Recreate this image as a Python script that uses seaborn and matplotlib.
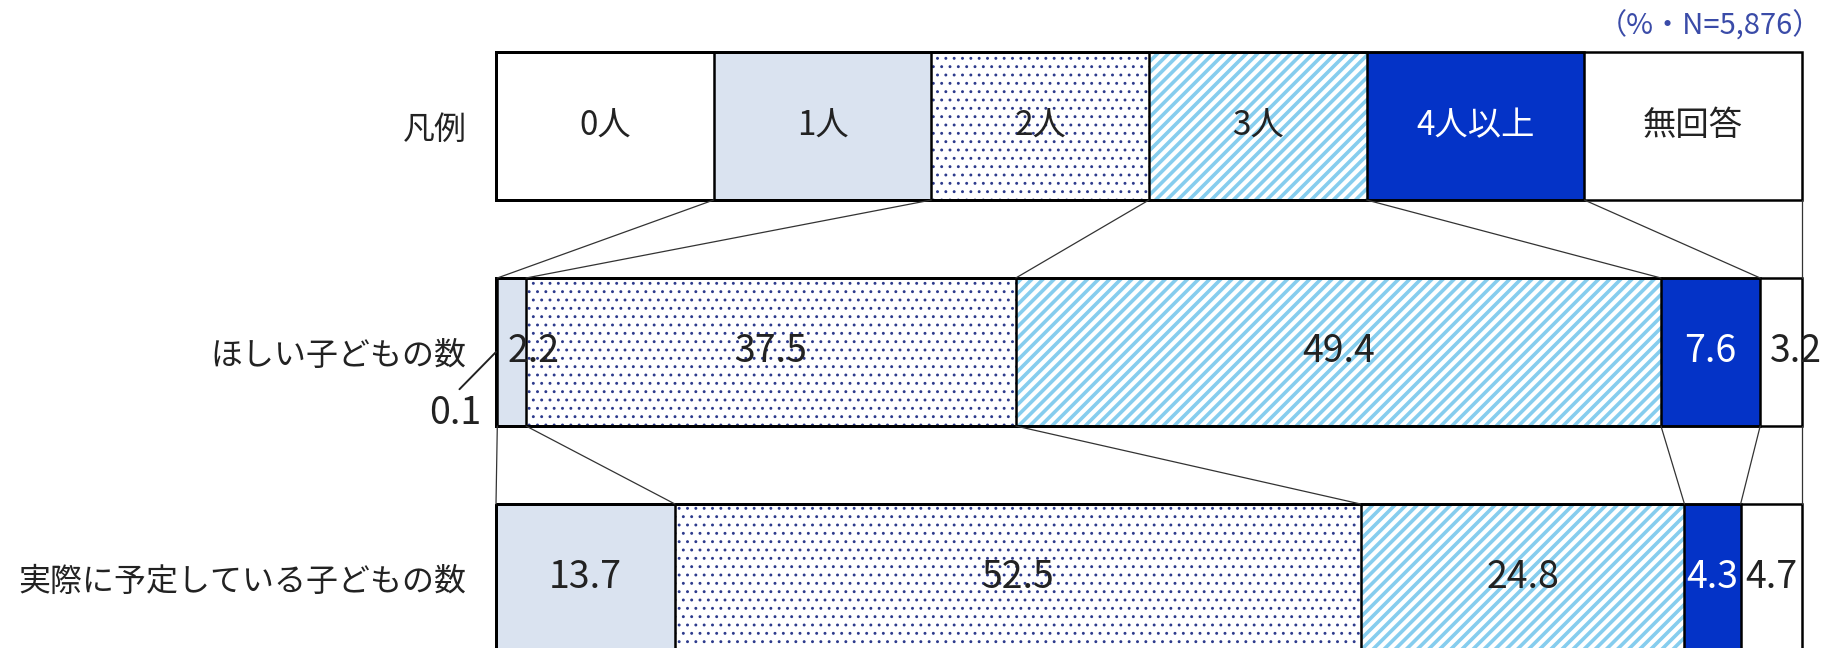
import matplotlib
matplotlib.use("Agg")
import matplotlib.pyplot as plt
import pandas as pd
import seaborn as sns

# rows and categories of the chart
rows = ["凡例", "ほしい子どもの数", "実際に予定している子どもの数"]
categories = ["0人", "1人", "2人", "3人", "4人以上", "無回答"]
hoshii = [0.1, 2.2, 37.5, 49.4, 7.6, 3.2]   # ほしい子どもの数 (%)
yotei = [0.0, 13.7, 52.5, 24.8, 4.3, 4.7]   # 実際に予定している子どもの数 (%)
n_label = "（%・N=5,876）"

# styles per category
fill_colors = ["#FFFFFF", "#DAE3F0", "#FFFFFF", "#FFFFFF", "#0433C7", "#FFFFFF"]
hatches = [None, None, "..", "///", None, None]
hatch_colors = [None, None, "#2C3A8C", "#86CDEE", None, None]
hatch_widths = [None, None, 0.9, 2.6, None, None]
text_colors = ["#222222", "#222222", "#222222", "#222222", "#FFFFFF", "#222222"]


def build_table():
    legend_share = [100 / len(categories)] * len(categories)  # legend row = equal boxes
    table = pd.DataFrame([legend_share, hoshii, yotei], index=rows, columns=categories)
    cum = table.cumsum(axis=1)
    start = cum - table
    return table, cum, start


def draw_chart(table, cum, start):
    sns.set_style("white")
    plt.rcParams["font.family"] = ["Noto Sans CJK JP", "DejaVu Sans"]

    fig = plt.figure(figsize=(18.29, 6.48), dpi=100)
    ax = fig.add_axes([496 / 1829, 0, 1306 / 1829, 1])
    bar_h = 148 / 226

    # stacked bars: draw cumulative totals from the right, each one covering the next
    for i in reversed(range(len(categories))):
        cat = categories[i]
        kw = dict(x=cum[cat].values, y=rows, orient="y", ax=ax, width=bar_h,
                  saturation=1, color=fill_colors[i])
        if hatches[i]:
            with plt.rc_context({"hatch.linewidth": hatch_widths[i]}):
                n0 = len(ax.patches)
                sns.barplot(**kw, hatch=hatches[i], edgecolor=hatch_colors[i], linewidth=0)
                for p in ax.patches[n0:]:
                    if hasattr(p, "set_hatch_linewidth"):
                        p.set_hatch_linewidth(hatch_widths[i])
        else:
            sns.barplot(**kw, linewidth=0)

    # black outlines of every segment
    for i in reversed(range(len(categories))):
        sns.barplot(x=cum[categories[i]].values, y=rows, orient="y", ax=ax, width=bar_h,
                    fill=False, color="black", linewidth=1.8)
    for p in ax.patches:
        p.set_clip_on(False)

    # thin connector lines between the rows
    half = bar_h / 2
    for r in range(len(rows) - 1):
        upper = list(start.iloc[r, 1:]) + [100]
        lower = list(start.iloc[r + 1, 1:]) + [100]
        for xu, xl in zip(upper, lower):
            ax.plot([xu, xl], [r + half, r + 1 - half], color="#333333", lw=0.9, clip_on=False)

    # labels
    for r in range(len(rows)):
        for i, cat in enumerate(categories):
            v = table.iloc[r, i]
            x0 = start.iloc[r, i]
            mid = x0 + v / 2
            if r == 0:
                ax.text(mid, r, cat, ha="center", va="center", fontsize=24, color=text_colors[i])
                continue
            if v == 0:
                continue
            label = f"{v:.1f}"
            if v < 1:
                ax.annotate(label, xy=(x0, r), xytext=(-41, -62), textcoords="offset pixels",
                            ha="center", va="center", fontsize=27, color="#222222",
                            arrowprops=dict(arrowstyle="-", color="#222222", lw=1.4,
                                            relpos=(0.45, 0.95), shrinkA=2, shrinkB=0))
            elif v < 4:
                ax.annotate(label, xy=(x0, r), xytext=(10, 0), textcoords="offset pixels",
                            ha="left", va="center", fontsize=27, color=text_colors[i])
            else:
                ax.text(mid, r, label, ha="center", va="center", fontsize=27, color=text_colors[i])

    ax.set_xlim(0, 100)
    ax.set_ylim(2 + 70 / 226, -126 / 226)
    ax.set_xticks([])
    ax.set_xlabel("")
    ax.set_ylabel("")
    ax.tick_params(axis="y", length=0, pad=21, labelsize=23, labelcolor="#222222")
    for s in ax.spines.values():
        s.set_visible(False)

    fig.text(1822 / 1829, 1 - 26 / 648, n_label, ha="right", va="center",
             color="#3A4BA8", fontsize=21)
    fig.savefig("out.png", dpi=100)


def main():
    table, cum, start = build_table()
    draw_chart(table, cum, start)


if __name__ == "__main__":
    main()
